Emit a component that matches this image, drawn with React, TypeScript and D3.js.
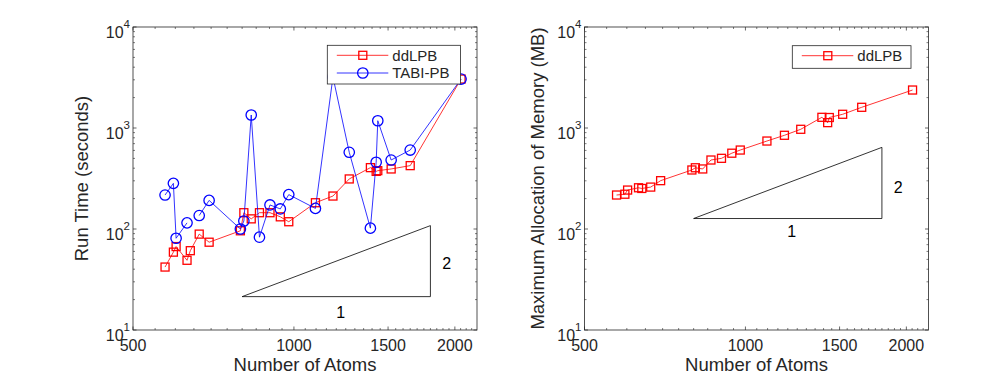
import React from 'react';
import * as d3 from 'd3';

// atoms per molecule (shared x values of both panels)
const atoms = [574, 595, 602, 631, 640, 665, 694, 794, 806, 832, 862, 902, 943, 978, 1097, 1183, 1269, 1390, 1425, 1435, 1520, 1650, 2054];
// run time in seconds
const ddlpbTime = [42, 59, 67, 49, 61, 89, 74, 96, 145, 126, 145, 145, 132, 118, 182, 212, 313, 405, 372, 378, 393, 424, 3054];
const tabiTime: (number | null)[] = [217, 283, 81, 115, null, 136, 192, 100, 120, 1345, 83, 173, 158, 219, 160, 3200, 575, 102, 458, 1180, 482, 605, 3054];
// max memory in MB
const ddlpbMemory = [217, 221, 243, 256, 252, 260, 301, 384, 404, 393, 482, 501, 563, 605, 743, 847, 971, 1276, 1130, 1270, 1367, 1603, 2377];

const xTicks = [500, 1000, 1500, 2000];
const yTicks = [10, 100, 1000, 10000];
const xDomain = [500, 2200];
const yDomain = [10, 10000];

// slope-2 reference triangles: [atoms, value]
const timeTriangle = [[800, 21.4], [1800, 21.4], [1800, 108]];
const memTriangle = [[800, 127], [1800, 127], [1800, 643]];

const FONT = 'Liberation Sans, Arial, Helvetica, sans-serif';
const AXIS = '#262626';

type Series = { name: string; values: (number | null)[]; color: string; marker: 'square' | 'circle' };

function Marker({ kind, x, y, color }: { kind: string; x: number; y: number; color: string }) {
  if (kind === 'square') {
    return <rect x={x - 4} y={y - 4} width={8} height={8} fill="none" stroke={color} strokeWidth={1.3} />;
  }
  return <circle cx={x} cy={y} r={5.2} fill="none" stroke={color} strokeWidth={1.3} />;
}

function Panel({ left, yLabel, yLabelX, series, triangle, legendBox, oneLabel, twoLabel }: any) {
  const top = 27, bottom = 330, right = left + 344;
  const x = d3.scaleLog().domain(xDomain).range([left, right]);
  const y = d3.scaleLog().domain(yDomain).range([bottom, top]);

  const minorX = d3.range(550, 2200, 50).filter(v => !xTicks.includes(v));
  const minorY: number[] = [];
  [10, 100, 1000].forEach(d => { for (let k = 2; k <= 9; k++) minorY.push(d * k); });

  const line = d3.line<[number, number | null]>()
    .defined(d => d[1] != null)
    .x(d => x(d[0]))
    .y(d => y(d[1] as number));

  const tri = triangle.map((p: number[]) => [x(p[0]), y(p[1])]);
  const [lx0, ly0, lx1, ly1] = legendBox;

  return (
    <g fontFamily={FONT} fill={AXIS}>
      {/* plot box */}
      <rect x={left} y={top} width={right - left} height={bottom - top} fill="#fff" stroke={AXIS} strokeWidth={0.8} />

      {/* x ticks, both sides */}
      {minorX.map(v => (
        <g key={'mx' + v} stroke={AXIS} strokeWidth={0.6}>
          <line x1={x(v)} x2={x(v)} y1={bottom} y2={bottom - 2} />
          <line x1={x(v)} x2={x(v)} y1={top} y2={top + 2} />
        </g>
      ))}
      {xTicks.map(v => (
        <g key={'x' + v}>
          <line x1={x(v)} x2={x(v)} y1={bottom} y2={bottom - 3.5} stroke={AXIS} strokeWidth={0.7} />
          <line x1={x(v)} x2={x(v)} y1={top} y2={top + 3.5} stroke={AXIS} strokeWidth={0.7} />
          <text x={x(v)} y={bottom + 20.5} textAnchor="middle" fontSize={16}>{v}</text>
        </g>
      ))}

      {/* y ticks, both sides */}
      {minorY.map(v => (
        <g key={'my' + v} stroke={AXIS} strokeWidth={0.6}>
          <line x1={left} x2={left + 2} y1={y(v)} y2={y(v)} />
          <line x1={right} x2={right - 2} y1={y(v)} y2={y(v)} />
        </g>
      ))}
      {yTicks.map(v => (
        <g key={'y' + v}>
          <line x1={left} x2={left + 3.5} y1={y(v)} y2={y(v)} stroke={AXIS} strokeWidth={0.7} />
          <line x1={right} x2={right - 3.5} y1={y(v)} y2={y(v)} stroke={AXIS} strokeWidth={0.7} />
          <text x={left - 3} y={y(v) + 11} textAnchor="end" fontSize={16}>
            <tspan>10</tspan>
            <tspan dy={-10} fontSize={11.5}>{Math.round(Math.log10(v))}</tspan>
          </text>
        </g>
      ))}

      {/* axis labels */}
      <text x={(left + right) / 2} y={371} textAnchor="middle" fontSize={18.5}>Number of Atoms</text>
      <text transform={`translate(${yLabelX},${(top + bottom) / 2}) rotate(-90)`} textAnchor="middle" fontSize={18.5}>{yLabel}</text>

      {/* slope triangle */}
      <path d={`M${tri[0][0]},${tri[0][1]}L${tri[1][0]},${tri[1][1]}L${tri[2][0]},${tri[2][1]}Z`} fill="none" stroke="#000" strokeWidth={0.8} />
      <text x={oneLabel[0]} y={oneLabel[1]} textAnchor="middle" fontSize={16} fill="#000">1</text>
      <text x={twoLabel[0]} y={twoLabel[1]} textAnchor="middle" fontSize={16} fill="#000">2</text>

      {/* data */}
      {series.map((s: Series) => {
        const pts = atoms.map((a, i) => [a, s.values[i]] as [number, number | null]);
        return (
          <g key={s.name}>
            <path d={line(pts) || ''} fill="none" stroke={s.color} strokeWidth={0.8} />
            {pts.filter(p => p[1] != null).map((p, i) => (
              <Marker key={i} kind={s.marker} x={x(p[0])} y={y(p[1] as number)} color={s.color} />
            ))}
          </g>
        );
      })}

      {/* legend */}
      <rect x={lx0} y={ly0} width={lx1 - lx0} height={ly1 - ly0} fill="#fff" stroke={AXIS} strokeWidth={0.8} />
      {series.map((s: Series, i: number) => {
        const cy = ly0 + 10 + i * 17.7;
        return (
          <g key={'lg' + s.name}>
            <line x1={lx0 + 9.5} x2={lx0 + 61} y1={cy} y2={cy} stroke={s.color} strokeWidth={0.8} />
            <Marker kind={s.marker} x={lx0 + 35.5} y={cy} color={s.color} />
            <text x={lx0 + 65} y={cy + 5.3} fontSize={15}>{s.name}</text>
          </g>
        );
      })}
    </g>
  );
}

export default function App() {
  const leftSeries: Series[] = [
    { name: 'ddLPB', values: ddlpbTime, color: '#ff0000', marker: 'square' },
    { name: 'TABI-PB', values: tabiTime, color: '#0000ff', marker: 'circle' },
  ];
  const rightSeries: Series[] = [
    { name: 'ddLPB', values: ddlpbMemory, color: '#ff0000', marker: 'square' },
  ];
  return (
    <svg width={997} height={376} style={{ position: 'absolute', left: 0, top: 0, background: '#fff' }}>
      <rect width={997} height={376} fill="#fff" />
      <Panel left={133} yLabel="Run Time (seconds)" yLabelX={88} series={leftSeries}
        triangle={timeTriangle} legendBox={[327.3, 45.3, 460.5, 84]}
        oneLabel={[340.7, 317.5]} twoLabel={[446.7, 269]} />
      <Panel left={584.5} yLabel="Maximum Allocation of Memory (MB)" yLabelX={544} series={rightSeries}
        triangle={memTriangle} legendBox={[792.3, 45.7, 911, 68.3]}
        oneLabel={[791.7, 236.5]} twoLabel={[898.3, 192.5]} />
    </svg>
  );
}
